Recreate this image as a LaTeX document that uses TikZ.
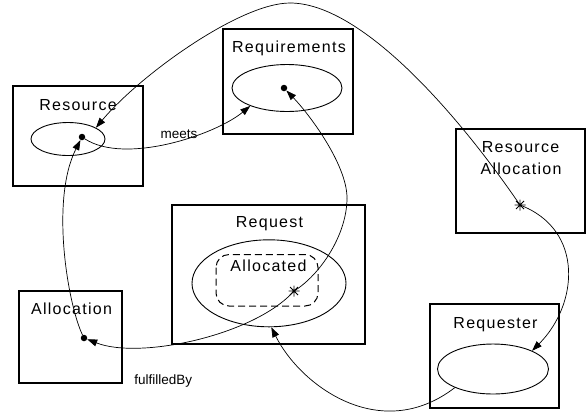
\documentclass[tikz,border=0pt]{standalone}
\usepackage{fontspec}
\setmainfont{Liberation Sans}
\newfontfamily\boxfont[LetterSpace=8]{Liberation Sans}
\usetikzlibrary{shapes.geometric,arrows.meta}

\begin{document}
\begin{tikzpicture}[x=1bp,y=-1bp,
  classbox/.style={draw,line width=1.3bp},
  title/.style={anchor=base,inner sep=0pt,font=\boxfont\fontsize{16bp}{21bp}\selectfont},
  small/.style={anchor=base,inner sep=0pt,font=\fontsize{13.5bp}{16bp}\selectfont},
  setshape/.style={draw,ellipse,line width=0.9bp,inner sep=0pt},
  dotmark/.style={circle,fill,inner sep=0pt,minimum size=6.5bp},
  link/.style={line width=0.7bp,-{Triangle[length=10bp,width=7bp]}},
  plain/.style={line width=0.7bp}]
\useasboundingbox (0,0) rectangle (586,412);

% class boxes
\draw[classbox] (13,86) rectangle (143,186);
\draw[classbox] (223,29) rectangle (353,134);
\draw[classbox] (456,129) rectangle (585,233);
\draw[classbox] (172,205) rectangle (365,344);
\draw[classbox] (19,291) rectangle (122,383);
\draw[classbox] (430,304) rectangle (559,408);

% box titles
\node[title] (tRes) at (78,110) {Resource};
\node[title] (tReq) at (289,52.7) {Requirements};
\node[title] (tRA1) at (520.5,152.7) {Resource};
\node[title] (tRA2) at (521,174) {Allocation};
\node[title] (tRqt) at (269.5,227.7) {Request};
\node[title] (tAll) at (71.5,314) {Allocation};
\node[title] (tRqr) at (495.5,328) {Requester};

% sets inside the boxes
\node[setshape,minimum width=74bp,minimum height=33bp] (resE) at (68,139) {};
\node[setshape,minimum width=110bp,minimum height=47bp] (reqE) at (287,88) {};
\node[setshape,minimum width=154bp,minimum height=87bp] (rqtE) at (269,283.3) {};
\node[setshape,minimum width=111bp,minimum height=50bp] (rqrE) at (493,369) {};
\draw[line width=1bp,dash pattern=on 7bp off 4bp,rounded corners=13bp] (216,254.5) rectangle (318,306);
\node[title] (tAlc) at (268.5,271) {Allocated};

% member points
\node[dotmark] (resDot) at (82,137) {};
\node[dotmark] (reqDot) at (284,88) {};
\node[dotmark] (allDot) at (84,338) {};
\coordinate (raStar) at (520,205);
\coordinate (rqtStar) at (294,291);
\foreach \c in {raStar,rqtStar}{
  \draw[line width=0.9bp] (\c) +(-5.5,0) -- +(5.5,0)
    (\c) +(0,-5.5) -- +(0,5.5)
    (\c) +(-4,-4) -- +(4,4)
    (\c) +(-4,4) -- +(4,-4);
}

% connectors
\draw[link] (resDot) .. controls (125,165) and (215,135) .. (reqE.206);
\node[small] (lMeets) at (179,138.3) {meets};

\draw[plain] (raStar) .. controls (455,110) and (360,3) .. (290,3) coordinate (arcTop);
\draw[link] (arcTop) .. controls (240,3) and (140,75) .. (resE.22);

\draw[link] (raStar) .. controls (585,230) and (578,305) .. (rqrE.25);

\draw[link] (rqrE.206) .. controls (380,445) and (300,385) .. (rqtE.273);

\draw[link] (rqtStar) .. controls (255,335) and (140,360) .. (allDot);
\node[small] (lFul) at (163.3,384) {fulfilledBy};

\draw[link] (allDot) .. controls (68,305) and (50,200) .. (resDot);

\draw[plain] (rqtStar) .. controls (320,275) and (347,235) .. (347,198) coordinate (rqtBend);
\draw[link] (rqtBend) .. controls (347,165) and (310,115) .. (reqDot);
\end{tikzpicture}
\end{document}
